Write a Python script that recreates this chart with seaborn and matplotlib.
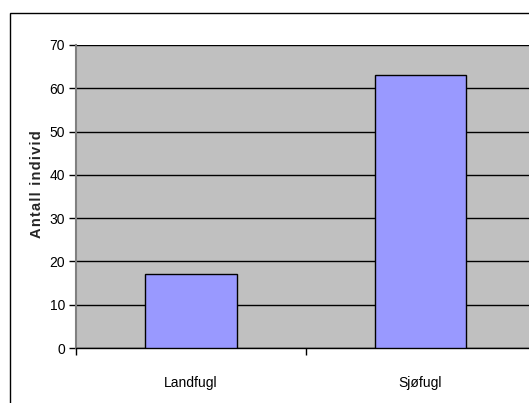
import matplotlib
matplotlib.use("Agg")
import matplotlib.pyplot as plt
import seaborn as sns
from matplotlib.patches import Rectangle

categories = ["Landfugl", "Sjøfugl"]
counts = [17, 63]
y_ticks = [0, 10, 20, 30, 40, 50, 60, 70]
y_label = "Antall individ"

sns.set_theme(style="white")
plt.rcParams["font.family"] = ["Liberation Sans", "DejaVu Sans"]

W, H = 529, 403
fig = plt.figure(figsize=(W / 100, H / 100), dpi=100)

# outer chart frame (runs past the right and bottom edges)
fig.patches.append(Rectangle((10 / W, -0.2), 1.2, 1 - 13 / H + 0.2,
                             transform=fig.transFigure, fill=False,
                             edgecolor="black", linewidth=1.0, clip_on=False))

cat_w = 229.7
ax = fig.add_axes([76 / W, 55 / H, 2 * cat_w / W, 303 / H])
ax.set_facecolor("#C0C0C0")

sns.barplot(x=categories, y=counts, color="#9999FF", saturation=1,
            edgecolor="black", linewidth=1.0, width=0.4, ax=ax, zorder=3)

ax.set_xlim(-0.5, 1.5)
ax.set_ylim(0, 70)
ax.set_yticks(y_ticks)
ax.yaxis.grid(True, color="black", linewidth=1.0, zorder=0)
ax.set_axisbelow(True)

for s in ["top", "right"]:
    ax.spines[s].set_visible(False)
ax.spines["left"].set_color("#808080")
ax.spines["left"].set_linewidth(1.5)
ax.spines["bottom"].set_color("black")
ax.spines["bottom"].set_linewidth(1.0)

ax.tick_params(axis="y", which="major", left=True, length=5, width=1,
               color="black", labelsize=10, pad=3, labelcolor="black")
ax.set_xticks([0, 1])
ax.set_xticklabels(categories)
ax.set_xticks([-0.5, 0.5, 1.5], minor=True)
ax.tick_params(axis="x", which="major", bottom=False, length=0,
               labelsize=10, pad=20, labelcolor="black")
ax.tick_params(axis="x", which="minor", bottom=True, length=5, width=1,
               color="black")

ax.set_xlabel("")
ax.set_ylabel("")
fig.text(37 / W, 1 - 184 / H, "\u200a".join(y_label), rotation=90,
         ha="center", va="center", fontsize=10.5, fontweight="bold")

fig.savefig("out.png", dpi=100)
